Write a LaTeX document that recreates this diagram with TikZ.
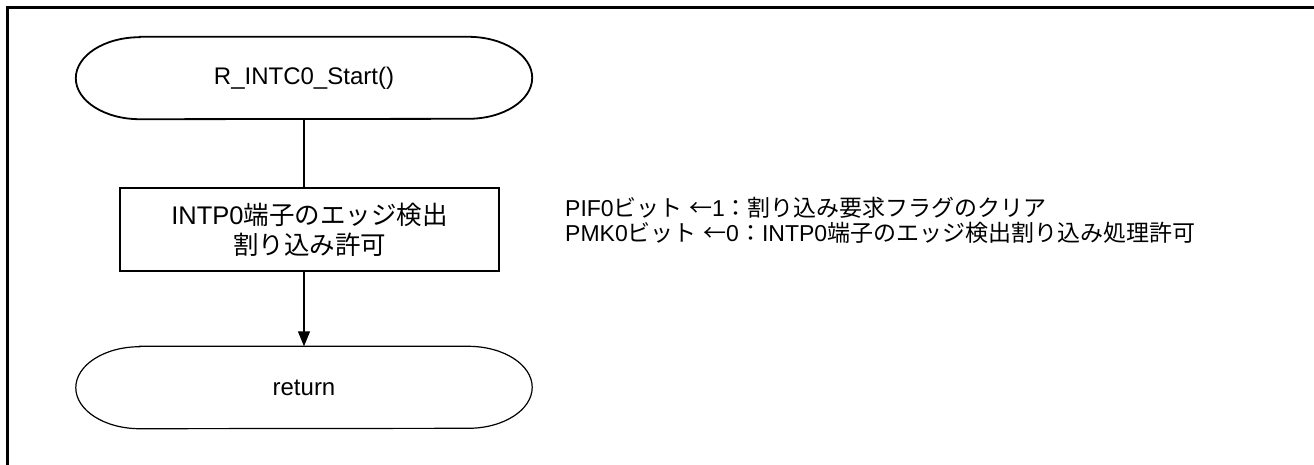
\documentclass[tikz,border=0pt]{standalone}
\usepackage{fontspec}
\setmainfont{Liberation Sans}
\newfontfamily\jp{Noto Sans CJK JP}
\usetikzlibrary{arrows.meta}

% outline of a start/end terminal around a named node
\newcommand\termoutline[2]{%
  \draw[line width=#2] ([xshift=64pt]#1.north west) -- ([xshift=-64pt]#1.north east)
    arc[start angle=90, end angle=-90, x radius=64pt, y radius=41pt]
    -- ([xshift=64pt]#1.south west)
    arc[start angle=270, end angle=90, x radius=64pt, y radius=41pt] -- cycle;}

\begin{document}
\begin{tikzpicture}[x=1pt,y=1pt,
  termnode/.style={minimum width=456pt, minimum height=82pt, inner sep=0pt,
    font=\fontsize{24}{30}\selectfont},
  procbox/.style={draw, line width=1.8pt, minimum width=379pt, minimum height=83pt,
    inner sep=0pt, align=center, font=\fontsize{25.5}{30}\selectfont},
  note/.style={anchor=west, inner sep=0pt, align=left,
    font=\fontsize{23}{25}\selectfont},
  link/.style={line width=1.3pt},
]
\useasboundingbox (0,0) rectangle (1314,-464);
% frame
\draw[line width=2.5pt] (7.5,-480) -- (7.5,-7.5) -- (1330,-7.5);

% nodes
\node[termnode] (start) at (304,-78) {R\_INTC0\_Start()};
\termoutline{start}{1.8pt}

\node[procbox] (box) at (309.5,-229.5) {INTP0{\jp 端子のエッジ検出}\\{\jp 割り込み許可}};

\node[termnode] (ret) at (304,-387.5) {return};
\termoutline{ret}{1.2pt}

\node[note] (notes) at (565,-220)
  {PIF0{\jp ビット}\ {\jp ←}1{\jp ：割り込み要求フラグのクリア}\\
   PMK0{\jp ビット}\ {\jp ←}0{\jp ：}INTP0{\jp 端子のエッジ検出割り込み処理許可}};

% connectors
\draw[link] (start.south) -- (start.south |- box.north);
\draw[link,-{Triangle[length=15pt,width=12pt]}] (box.south -| start.south) -- (ret.north);
\end{tikzpicture}
\end{document}
